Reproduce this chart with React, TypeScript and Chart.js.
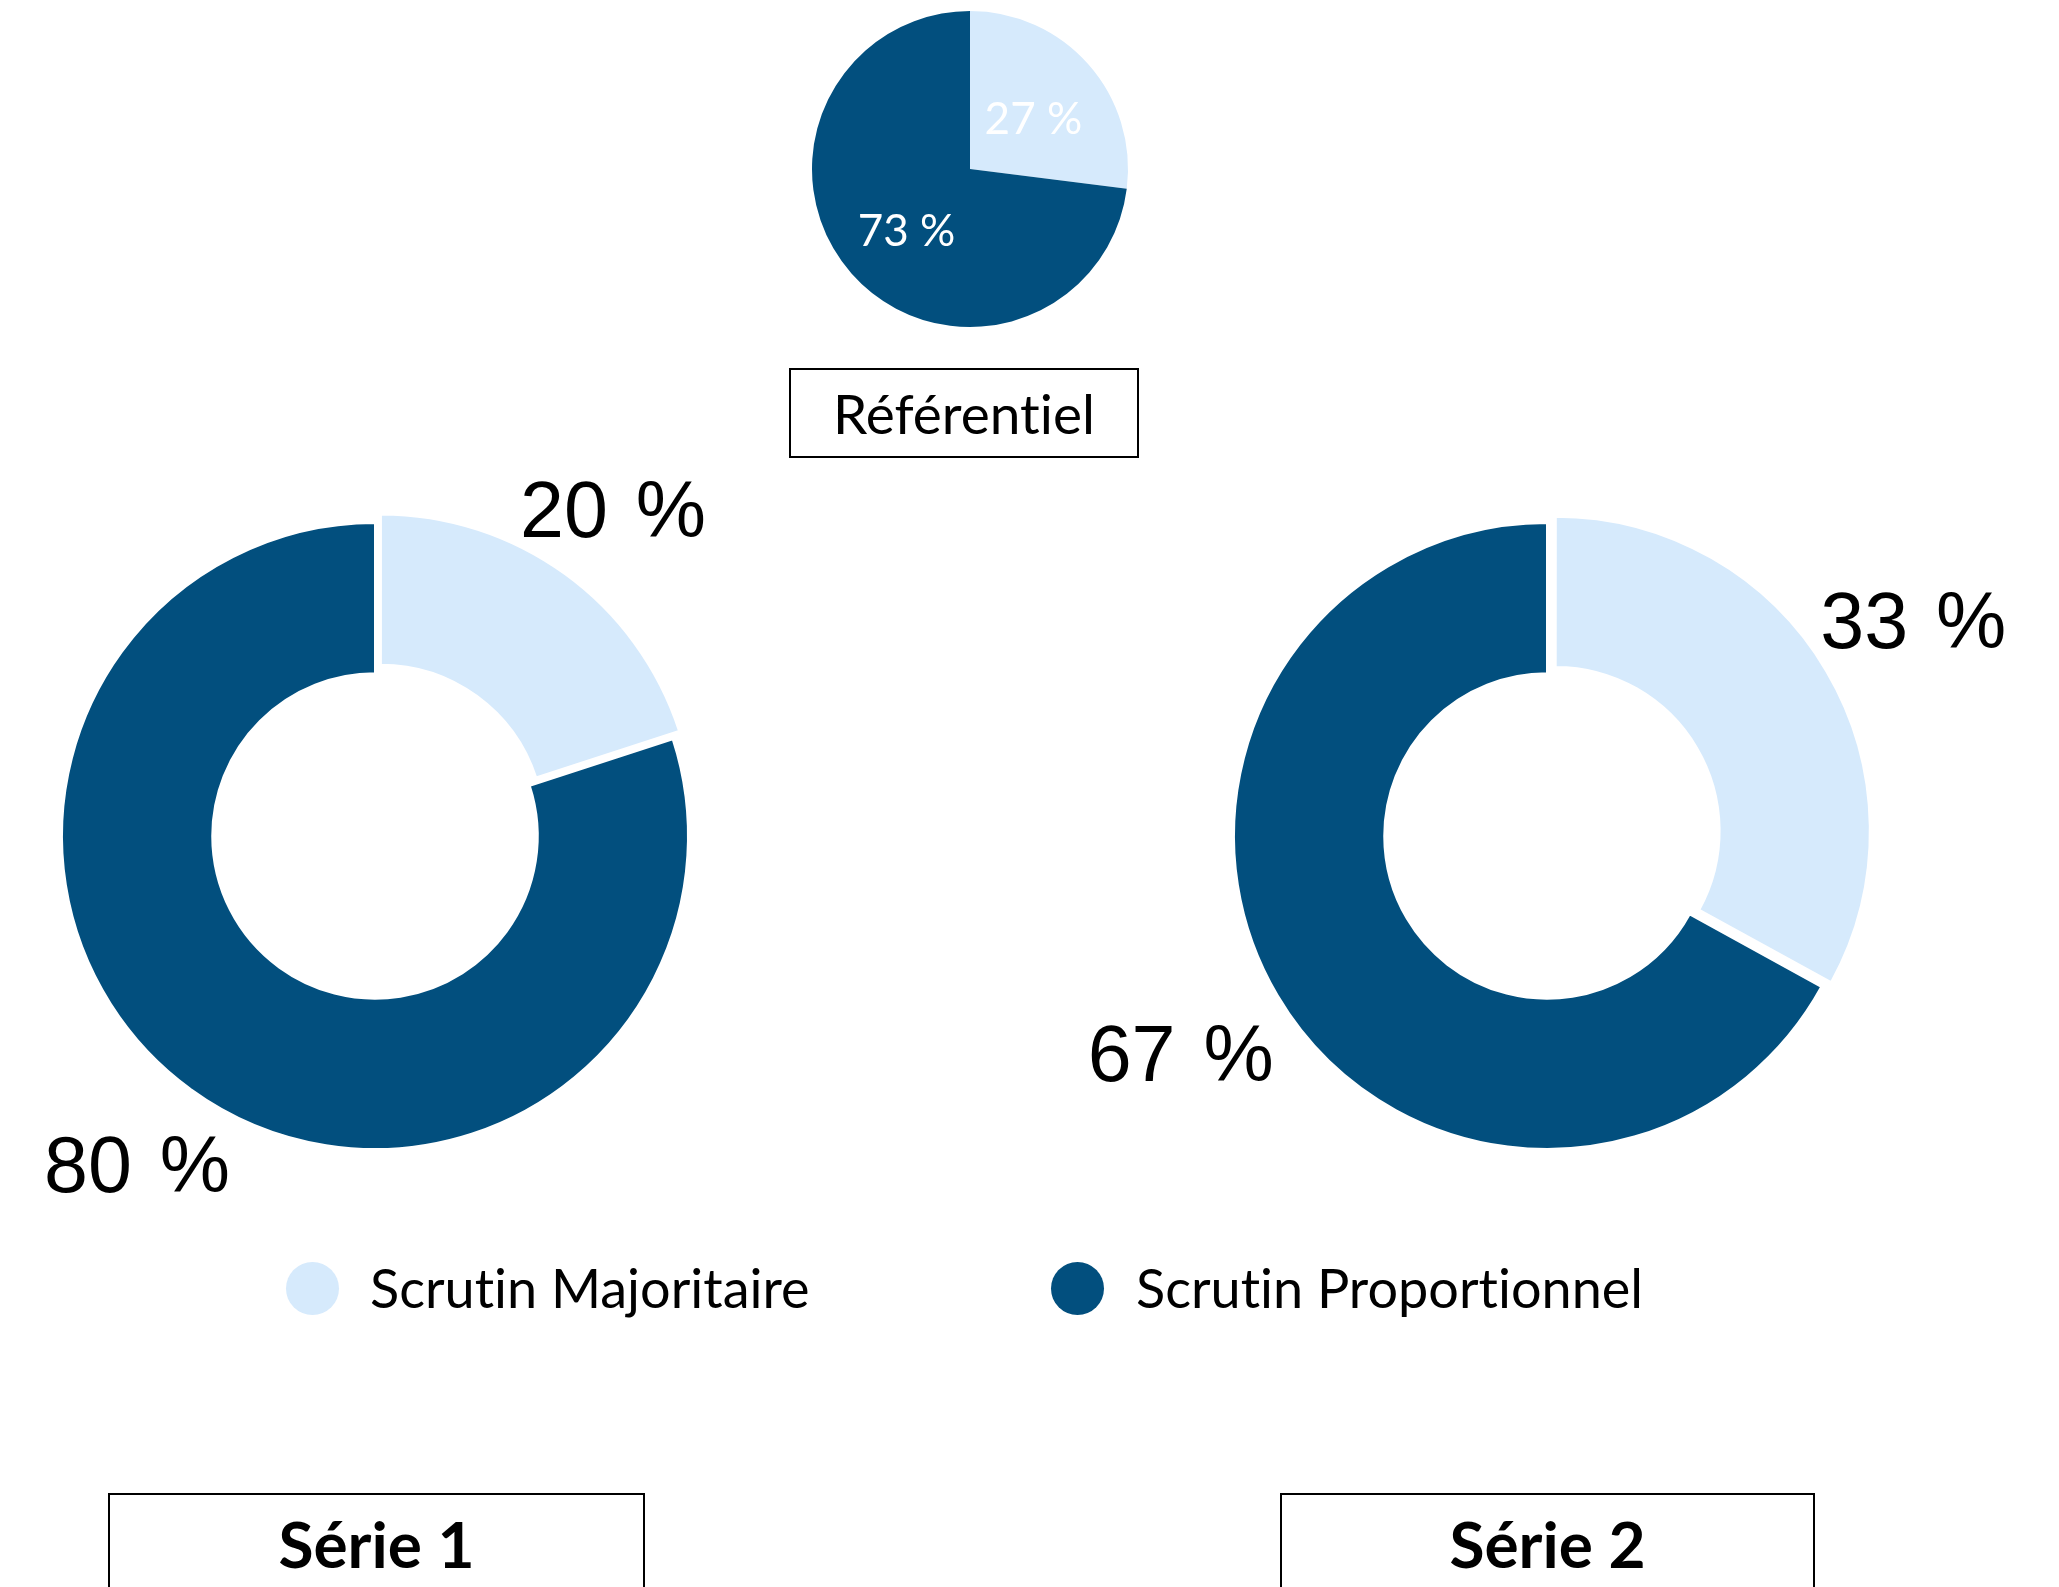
import React, { useEffect, useRef } from "react";
import { Chart, registerables } from "chart.js";

Chart.register(...registerables);

// ---- Data ----
const categories = ["Scrutin Majoritaire", "Scrutin Proportionnel"];
const sliceColors = ["#D6EAFC", "#024F7E"];
const referenceValues = [27, 73];
const serie1Values = [20, 80];
const serie2Values = [33, 67];
const panelTitles = ["Référentiel", "Série 1", "Série 2"];

const PAGE_W = 2059;
const PAGE_H = 1587;

// Plugin drawing the percentage labels from each arc's geometry
const sliceLabelPlugin = {
  id: "sliceLabels",
  afterDatasetsDraw(chart: any, _args: any, opts: any) {
    if (!opts || !opts.mode) return;
    const ctx = chart.ctx;
    const meta = chart.getDatasetMeta(0);
    const data = chart.data.datasets[0].data as number[];
    ctx.save();
    ctx.font = `${opts.weight || "normal"} ${opts.size}px ${opts.family}`;
    try {
      (ctx as any).wordSpacing = opts.wordSpacing || "0px";
      (ctx as any).fontVariantLigatures = "none";
    } catch (e) {}
    ctx.fillStyle = opts.color;
    ctx.textAlign = "center";
    ctx.textBaseline = "alphabetic";
    meta.data.forEach((arc: any, i: number) => {
      const p = arc.getProps(["x", "y", "startAngle", "endAngle", "outerRadius"], true);
      const mid = (p.startAngle + p.endAngle) / 2;
      const text = `${data[i]} %`;
      const w = ctx.measureText(text).width;
      const h = opts.size * 0.716;
      let d: number;
      if (opts.mode === "inside") {
        d = p.outerRadius * opts.ratio;
      } else {
        const c = Math.abs(Math.cos(mid));
        const s = Math.abs(Math.sin(mid));
        const ext = Math.min(c > 1e-6 ? w / 2 / c : Infinity, s > 1e-6 ? h / 2 / s : Infinity);
        d = p.outerRadius + opts.gap + ext;
      }
      const px = p.x + Math.cos(mid) * d;
      const py = p.y + Math.sin(mid) * d + (opts.dy || 0);
      ctx.fillText(text, px, py + h / 2);
    });
    ctx.restore();
  },
};

type PieProps = {
  values: number[];
  type: "pie" | "doughnut";
  left: number;
  top: number;
  width: number;
  height: number;
  radius: number;
  cutout?: string;
  offsets?: number[];
  borderWidth: number;
  labels: any;
};

function PieCanvas(props: PieProps) {
  const ref = useRef<HTMLCanvasElement | null>(null);
  useEffect(() => {
    if (!ref.current) return;
    const chart = new Chart(ref.current, {
      type: props.type,
      data: {
        labels: categories,
        datasets: [
          {
            data: props.values,
            backgroundColor: sliceColors,
            borderColor: "#FFFFFF",
            borderWidth: props.borderWidth,
            offset: props.offsets || [0, 0],
          } as any,
        ],
      },
      options: {
        responsive: false,
        maintainAspectRatio: false,
        animation: false,
        devicePixelRatio: 1,
        radius: props.radius,
        cutout: props.cutout || 0,
        layout: { padding: 0 },
        plugins: {
          legend: { display: false },
          tooltip: { enabled: false },
          title: { display: false },
          sliceLabels: props.labels,
        } as any,
      } as any,
      plugins: [sliceLabelPlugin],
    });
    return () => chart.destroy();
  }, []);
  return (
    <canvas
      ref={ref}
      width={props.width}
      height={props.height}
      style={{ position: "absolute", left: props.left, top: props.top, width: props.width, height: props.height }}
    />
  );
}

const latoText: React.CSSProperties = {
  fontFamily: "Lato, 'Open Sans', sans-serif",
  fontVariantLigatures: "none",
  fontFeatureSettings: '"liga" 0, "clig" 0',
  color: "#000",
  lineHeight: 1,
};

function TitleBox(p: { text: string; left: number; top: number; width: number; height: number; size: number; bold?: boolean }) {
  return (
    <div
      style={{
        ...latoText,
        position: "absolute",
        left: p.left,
        top: p.top,
        width: p.width,
        height: p.height,
        boxSizing: "border-box",
        border: "2px solid #000",
        display: "flex",
        alignItems: "center",
        justifyContent: "center",
        fontSize: p.size,
        fontWeight: p.bold ? 700 : 400,
        background: "#fff",
      }}
    >
      {p.text}
    </div>
  );
}

function LegendItem(p: { label: string; color: string; cx: number; cy: number; textLeft: number }) {
  return (
    <>
      <div
        style={{
          position: "absolute",
          left: p.cx - 26.5,
          top: p.cy - 26.5,
          width: 53,
          height: 53,
          borderRadius: "50%",
          background: p.color,
        }}
      />
      <div
        style={{
          ...latoText,
          position: "absolute",
          left: p.textLeft,
          top: p.cy - 40,
          height: 80,
          display: "flex",
          alignItems: "center",
          fontSize: 54,
          whiteSpace: "nowrap",
        }}
      >
        {p.label}
      </div>
    </>
  );
}

export default function App() {
  useEffect(() => {
    document.body.style.margin = "0";
    document.body.style.overflow = "hidden";
  }, []);

  const outerLabels = {
    mode: "outside",
    size: 79,
    family: "'Liberation Sans', Arial, sans-serif",
    color: "#000",
    gap: 57,
    wordSpacing: "6px",
  };
  const innerLabels = { mode: "inside", size: 44, family: "Lato, sans-serif", color: "#FFFFFF", ratio: 0.535, dy: 5 };

  return (
    <div
      style={{
        position: "absolute",
        left: 0,
        top: 0,
        width: PAGE_W,
        height: PAGE_H,
        overflow: "hidden",
        background: "#fff",
      }}
    >
      <TitleBox text={panelTitles[0]} left={789} top={368} width={350} height={90} size={55} />
      <TitleBox text={panelTitles[1]} left={108} top={1493} width={537} height={102} size={64} bold />
      <TitleBox text={panelTitles[2]} left={1280} top={1493} width={535} height={102} size={64} bold />

      <LegendItem label={categories[0]} color={sliceColors[0]} cx={312} cy={1288} textLeft={370} />
      <LegendItem label={categories[1]} color={sliceColors[1]} cx={1077} cy={1288} textLeft={1136} />

      <PieCanvas
        type="pie"
        values={referenceValues}
        left={770}
        top={0}
        width={400}
        height={338}
        radius={158}
        borderWidth={0}
        labels={innerLabels}
      />
      <PieCanvas
        type="doughnut"
        values={serie1Values}
        left={-125}
        top={336}
        width={1000}
        height={1000}
        radius={313}
        cutout="52%"
        offsets={[40, 0]}
        borderWidth={2}
        labels={outerLabels}
      />
      <PieCanvas
        type="doughnut"
        values={serie2Values}
        left={1047}
        top={336}
        width={1000}
        height={1000}
        radius={313}
        cutout="52%"
        offsets={[40, 0]}
        borderWidth={2}
        labels={outerLabels}
      />
    </div>
  );
}
